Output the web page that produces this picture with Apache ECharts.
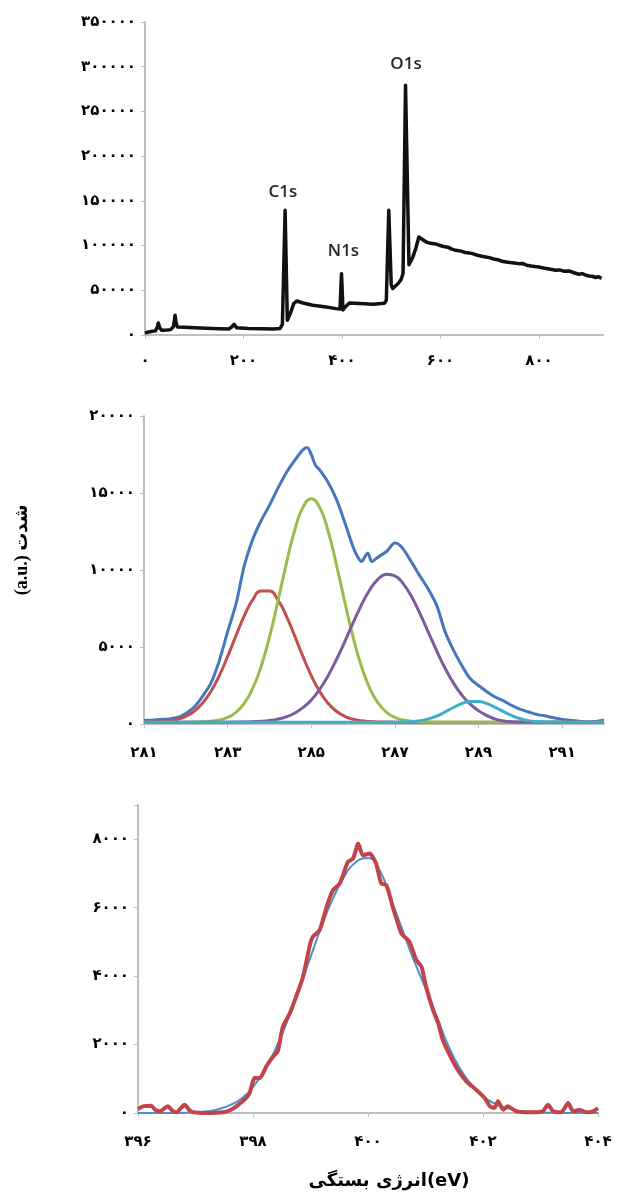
<!DOCTYPE html>
<html>
<head>
<meta charset="utf-8">
<script src="https://cdn.jsdelivr.net/npm/echarts@6/dist/echarts.min.js"></script>
<style>
html, body { margin: 0; padding: 0; background: #fff; }
#chart { width: 619px; height: 1200px; }
</style>
</head>
<body>
<div id="chart"></div>
<script>
// --- survey spectrum (top) ---
const surveyEnergy = [
  0, 7, 15, 21, 25, 27, 30, 34, 45, 52, 58, 61, 63, 66, 80, 100, 125, 150, 170, 176,
  181, 186, 210, 240, 260, 274, 279, 284.5, 289, 295, 302, 308, 321, 341, 368, 388, 396, 399, 402, 406,
  415, 436, 463, 486, 490, 495, 500, 503, 507, 514, 520, 524, 529, 536, 544, 550, 556, 560, 571, 580,
  590, 598, 606, 615, 623, 631, 640, 650, 658, 665, 675, 684, 692, 699, 708, 716, 725, 733, 741, 750,
  758, 767, 775, 784, 792, 800, 809, 818, 826, 834, 842, 850, 861, 871, 881, 888, 895, 902, 908, 915,
  921, 927
]
const surveyCounts = [
  2000, 3400, 4200, 4600, 9000, 13400, 8000, 5200, 5600, 6000, 9500, 22000, 14000, 9000, 8600, 8000, 7500, 7000, 6800, 9000,
  12000, 8200, 7300, 7000, 6800, 7200, 11900, 139500, 16400, 23900, 35100, 38000, 35800, 33200, 31300, 29500, 29000, 68600, 28000, 31000,
  35800, 35100, 34300, 35500, 38800, 139500, 56000, 52000, 51900, 57500, 62000, 68700, 279300, 78500, 87300, 97000, 109600, 108900, 104000, 102500,
  101800, 100300, 99000, 98200, 96000, 94700, 94000, 92300, 91800, 91000, 89200, 88000, 87200, 86500, 85000, 84200, 82500, 81700, 81000, 80600,
  79800, 79900, 78100, 77200, 76600, 76100, 74900, 74000, 73200, 72400, 72800, 71400, 71600, 69600, 67900, 68600, 66800, 66000, 65700, 64300,
  65200, 63100
]
const peakNames = ['C1s', 'N1s', 'O1s']
const peakLabelEnergy = [280, 403, 530]
const peakLabelCounts = [160000, 94000, 303000]
const surveyXTicks = [0, 200, 400, 600, 800]
const surveyYTicks = [0, 50000, 100000, 150000, 200000, 250000, 300000, 350000]

// --- C1s high resolution (middle) ---
const c1sEnergy = [
  281, 281.2, 281.4, 281.6, 281.8, 282, 282.2, 282.4, 282.6, 282.8,
  283, 283.2, 283.4, 283.6, 283.8, 284, 284.2, 284.4, 284.6, 284.8,
  285, 285.2, 285.4, 285.6, 285.8, 286, 286.2, 286.4, 286.6, 286.8,
  287, 287.2, 287.4, 287.6, 287.8, 288, 288.2, 288.4, 288.6, 288.8,
  289, 289.2, 289.4, 289.6, 289.8, 290, 290.2, 290.4, 290.6, 290.8,
  291, 291.2, 291.4, 291.6, 291.8, 292
]
const c1sFitRed = [
  125, 135, 160, 205, 310, 500, 825, 1350, 2110, 3140,
  4390, 5740, 7040, 8070, 8640, 8640, 8070, 7040, 5740, 4390,
  3140, 2110, 1350, 825, 500, 310, 205, 160, 135, 125,
  120, 120, 120, 120, 120, 120, 120, 120, 120, 120,
  120, 120, 120, 120, 120, 120, 120, 120, 120, 120,
  120, 120, 120, 120, 120, 120
]
const c1sFitGreen = [
  120, 120, 120, 120, 120, 120, 128, 140, 175, 255,
  425, 760, 1350, 2310, 3730, 5640, 7940, 10370, 12550, 14070,
  14620, 14070, 12550, 10370, 7940, 5640, 3730, 2310, 1350, 760,
  425, 255, 175, 140, 128, 120, 120, 120, 120, 120,
  120, 120, 120, 120, 120, 120, 120, 120, 120, 120,
  120, 120, 120, 120, 120, 120
]
const c1sFitPurple = [
  120, 120, 120, 120, 120, 120, 120, 120, 120, 120,
  120, 126, 133, 150, 175, 225, 315, 465, 700, 1060,
  1560, 2250, 3120, 4170, 5340, 6570, 7730, 8720, 9410, 9730,
  9620, 9100, 8260, 7160, 5950, 4750, 3620, 2660, 1880, 1290,
  865, 540, 320, 200, 150, 130, 125, 120, 120, 120,
  120, 120, 120, 120, 120, 120
]
const c1sFitCyan = [
  120, 120, 120, 120, 120, 120, 120, 120, 120, 120,
  120, 120, 120, 120, 120, 120, 120, 120, 120, 120,
  120, 120, 120, 120, 120, 120, 120, 120, 120, 120,
  120, 125, 150, 210, 330, 520, 780, 1070, 1320, 1460,
  1460, 1320, 1080, 800, 540, 340, 220, 160, 135, 125,
  120, 120, 120, 120, 120, 120
]
const c1sEnvEnergy = [
  281, 281.2, 281.4, 281.6, 281.8, 282, 282.2, 282.4, 282.6, 282.8,
  283, 283.2, 283.4, 283.6, 283.8, 284, 284.2, 284.4, 284.6, 284.8,
  284.9, 285, 285.1, 285.2, 285.4, 285.6, 285.8, 286, 286.1, 286.2,
  286.3, 286.35, 286.45, 286.6, 286.8, 287, 287.1, 287.2, 287.4, 287.6,
  287.8, 288, 288.2, 288.4, 288.6, 288.8, 289, 289.2, 289.4, 289.6,
  289.8, 290, 290.2, 290.4, 290.6, 290.8, 291, 291.2, 291.4, 291.6,
  291.8, 292
]
const c1sEnvCounts = [
  220, 250, 290, 330, 420, 680, 1100, 1800, 2650, 4100,
  6000, 7800, 10300, 12000, 13200, 14200, 15300, 16300, 17100, 17800,
  17950, 17500, 16800, 16500, 15700, 14600, 13100, 11500, 10900, 10550,
  10950, 11100, 10550, 10850, 11200, 11750, 11650, 11350, 10500, 9600,
  8750, 7700, 6000, 4800, 3800, 2950, 2500, 2100, 1750, 1500,
  1200, 950, 780, 620, 520, 400, 300, 240, 180, 130,
  170, 260
]
const c1sXTicks = [281, 283, 285, 287, 289, 291]
const c1sYTicks = [0, 5000, 10000, 15000, 20000]

// --- N1s high resolution (bottom) ---
const n1sFitEnergy = [
  396, 396.2, 396.4, 396.6, 396.8, 397, 397.2, 397.4, 397.6, 397.8,
  398, 398.2, 398.4, 398.6, 398.8, 399, 399.2, 399.4, 399.6, 399.8,
  400, 400.2, 400.4, 400.6, 400.8, 401, 401.2, 401.4, 401.6, 401.8,
  402, 402.2, 402.4, 402.6, 402.8, 403, 403.2, 403.4, 403.6, 403.8,
  404
]
const n1sFitCounts = [
  0, 0, 0, 0, 5, 20, 50, 110, 230, 420,
  760, 1250, 1900, 2700, 3600, 4550, 5500, 6300, 6950, 7350,
  7450, 7100, 6250, 5350, 4450, 3650, 2800, 1950, 1300, 820,
  490, 280, 150, 75, 35, 15, 5, 0, 0, 0,
  0
]
const n1sDataEnergy = [
  396, 396.1, 396.23, 396.3, 396.38, 396.52, 396.6, 396.67, 396.81, 396.9,
  396.96, 397.19, 397.48, 397.6, 397.71, 397.88, 397.94, 398.03, 398.12, 398.23,
  398.35, 398.43, 398.52, 398.64, 398.75, 398.87, 398.99, 399.04, 399.16, 399.28,
  399.39, 399.51, 399.65, 399.74, 399.83, 399.91, 400.03, 400.14, 400.23, 400.32,
  400.43, 400.58, 400.72, 400.84, 400.93, 401.01, 401.13, 401.22, 401.3, 401.42,
  401.56, 401.71, 401.88, 402.03, 402.12, 402.2, 402.26, 402.35, 402.43, 402.58,
  402.87, 403.04, 403.13, 403.22, 403.36, 403.48, 403.57, 403.68, 403.8, 403.91,
  404
]
const n1sDataCounts = [
  120, 200, 214, 90, 50, 195, 60, 20, 243, 70,
  20, 0, 20, 80, 195, 437, 583, 1020, 1020, 1360,
  1652, 1798, 2527, 2915, 3401, 3984, 4908, 5150, 5345, 6025,
  6511, 6706, 7337, 7434, 7872, 7532, 7580, 7289, 6706, 6657,
  6025, 5248, 5005, 4470, 4276, 3693, 3013, 2624, 2138, 1701,
  1263, 923, 680, 437, 194, 146, 340, 97, 194, 49,
  20, 49, 243, 49, 20, 292, 49, 97, 20, 49,
  146
]
const n1sXTicks = [396, 398, 400, 402, 404]
const n1sYTicks = [0, 2000, 4000, 6000, 8000]

const faDigits = '۰۱۲۳۴۵۶۷۸۹'
const fa = v => String(v).replace(/\d/g, d => faDigits[+d])
const pairs = (xs, ys) => xs.map((x, i) => [x, ys[i]])

const axisGray = '#bfbfbf'
const labelFont = { color: '#000', fontFamily: 'DejaVu Sans', fontWeight: 'bold', fontSize: 15 }

function xAxisOf(gridIndex, min, max, ticks, margin) {
  return {
    type: 'value', gridIndex, min, max,
    axisLine: { show: true, onZero: false, lineStyle: { color: axisGray, width: 2 } },
    axisTick: { show: true, length: 4, lineStyle: { color: axisGray }, customValues: ticks },
    axisLabel: { ...labelFont, margin, formatter: fa, customValues: ticks },
    splitLine: { show: false }
  }
}

function yAxisOf(gridIndex, min, max, ticks, tickMarks) {
  return {
    type: 'value', gridIndex, min, max,
    axisLine: { show: true, lineStyle: { color: axisGray, width: 2 } },
    axisTick: { show: true, length: 4, lineStyle: { color: axisGray }, customValues: tickMarks || ticks },
    axisLabel: { ...labelFont, margin: 9, formatter: fa, customValues: ticks },
    splitLine: { show: false }
  }
}

function lineOf(xIndex, data, color, width, smooth) {
  return {
    type: 'line', xAxisIndex: xIndex, yAxisIndex: xIndex,
    data, symbol: 'none', smooth: smooth || false,
    lineStyle: { color, width, join: 'round' }
  }
}

const chart = echarts.init(document.getElementById('chart'), null, { renderer: 'canvas' })

const survey = lineOf(0, pairs(surveyEnergy, surveyCounts), '#111', 3.5)
survey.markPoint = {
  symbol: 'circle', symbolSize: 1,
  itemStyle: { color: 'transparent' },
  label: {
    show: true, position: 'inside', formatter: '{b}',
    color: '#262626', fontFamily: 'Open Sans', fontWeight: 600, fontSize: 17
  },
  data: peakNames.map((n, i) => ({ name: n, coord: [peakLabelEnergy[i], peakLabelCounts[i]] }))
}

chart.setOption({
  animation: false,
  backgroundColor: '#fff',
  grid: [
    { left: 145, top: 22, width: 458, height: 313, outerBoundsMode: 'none' },
    { left: 144, top: 416, width: 460, height: 308, outerBoundsMode: 'none' },
    { left: 138, top: 805, width: 460, height: 308, outerBoundsMode: 'none' }
  ],
  xAxis: [
    xAxisOf(0, 0, 930, surveyXTicks, 19),
    xAxisOf(1, 281, 292, c1sXTicks, 22),
    xAxisOf(2, 396, 404, n1sXTicks, 22)
  ],
  yAxis: [
    yAxisOf(0, 0, 350000, surveyYTicks),
    yAxisOf(1, 0, 20000, c1sYTicks),
    yAxisOf(2, 0, 9000, n1sYTicks, [0, 2000, 4000, 6000, 8000, 9000])
  ],
  series: [
    survey,
    lineOf(1, pairs(c1sEnvEnergy, c1sEnvCounts), '#4677bd', 3, 0.3),
    lineOf(1, pairs(c1sEnergy, c1sFitRed), '#c0504d', 3, true),
    lineOf(1, pairs(c1sEnergy, c1sFitGreen), '#9bbb4f', 3, true),
    lineOf(1, pairs(c1sEnergy, c1sFitPurple), '#7b5c9e', 3, true),
    lineOf(1, pairs(c1sEnergy, c1sFitCyan), '#3fadc8', 3, true),
    lineOf(2, pairs(n1sFitEnergy, n1sFitCounts), '#4a8fd0', 2, true),
    lineOf(2, pairs(n1sDataEnergy, n1sDataCounts), '#c1444a', 4, 0.2)
  ],
  graphic: [
    {
      type: 'text', x: 22, y: 550, rotation: Math.PI / 2,
      style: {
        text: '(a.u.) شدت', align: 'center', verticalAlign: 'middle',
        font: 'bold 18px "Liberation Serif", "DejaVu Sans"', fill: '#000'
      }
    },
    {
      type: 'text', x: 389, y: 1181,
      style: {
        text: 'انرژی بستگی(eV)', align: 'center', verticalAlign: 'middle',
        font: 'bold 18px "DejaVu Sans"', fill: '#000'
      }
    }
  ]
})
</script>
</body>
</html>
